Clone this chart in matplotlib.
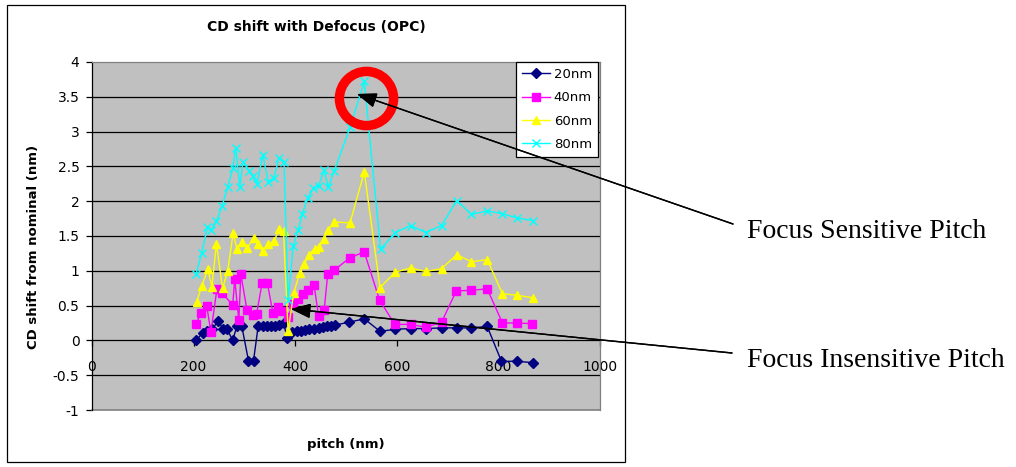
import matplotlib
matplotlib.use("Agg")
import matplotlib.pyplot as plt
from matplotlib.patches import Rectangle

# ---------------- data ----------------
pitch_20 = [205, 218, 227, 236, 249, 257, 266, 277, 285, 295, 308, 318, 327, 336, 344,
            352, 360, 369, 377, 384, 393, 403, 411, 419, 428, 437, 446, 454, 462, 470,
            478, 505, 536, 567, 597, 627, 657, 688, 718, 747, 778, 806, 836, 868]
cd_20 = [0.0, 0.11, 0.14, 0.16, 0.28, 0.17, 0.16, 0.0, 0.2, 0.2, -0.29, -0.29, 0.2, 0.2, 0.2,
         0.2, 0.21, 0.22, 0.25, 0.04, 0.12, 0.13, 0.14, 0.15, 0.16, 0.17, 0.18, 0.19, 0.2, 0.21,
         0.22, 0.26, 0.31, 0.13, 0.16, 0.17, 0.17, 0.18, 0.18, 0.18, 0.2, -0.3, -0.3, -0.32]

pitch_40 = [205, 215, 226, 234, 246, 256, 277, 281, 289, 293, 305, 316, 324, 335, 345,
            356, 367, 374, 385, 396, 406, 416, 426, 437, 446, 457, 464, 477, 508, 536,
            566, 596, 627, 657, 688, 717, 746, 778, 808, 836, 867]
cd_40 = [0.24, 0.4, 0.49, 0.12, 0.74, 0.68, 0.51, 0.88, 0.29, 0.95, 0.44, 0.37, 0.38, 0.83, 0.83,
         0.4, 0.48, 0.42, 0.33, 0.52, 0.59, 0.66, 0.73, 0.8, 0.35, 0.44, 0.95, 1.01, 1.19, 1.27,
         0.58, 0.23, 0.23, 0.19, 0.26, 0.71, 0.72, 0.74, 0.25, 0.25, 0.24]

pitch_60 = [206, 216, 228, 236, 245, 257, 267, 278, 285, 295, 306, 318, 326, 336, 347,
            359, 368, 377, 386, 397, 409, 418, 427, 438, 447, 457, 465, 477, 508, 536,
            567, 597, 627, 657, 688, 718, 747, 778, 808, 836, 869]
cd_60 = [0.55, 0.78, 1.02, 0.77, 1.39, 0.75, 0.99, 1.55, 1.32, 1.42, 1.33, 1.47, 1.38, 1.28, 1.38,
         1.43, 1.6, 1.57, 0.13, 0.68, 0.97, 1.1, 1.23, 1.32, 1.34, 1.46, 1.59, 1.7, 1.69, 2.42,
         0.76, 0.98, 1.04, 0.99, 1.03, 1.23, 1.13, 1.16, 0.67, 0.65, 0.61]

pitch_80 = [205, 216, 227, 235, 245, 256, 267, 277, 283, 291, 297, 309, 316, 325, 336,
            347, 358, 368, 378, 386, 396, 406, 414, 425, 436, 446, 457, 465, 477, 508,
            536, 568, 597, 627, 657, 688, 718, 747, 778, 808, 836, 869]
cd_80 = [0.96, 1.25, 1.63, 1.59, 1.71, 1.93, 2.2, 2.47, 2.77, 2.2, 2.57, 2.44, 2.36, 2.25, 2.67,
         2.28, 2.33, 2.62, 2.57, 0.58, 1.35, 1.59, 1.82, 2.05, 2.19, 2.22, 2.45, 2.2, 2.44, 3.06,
         3.72, 1.31, 1.55, 1.65, 1.55, 1.65, 2.01, 1.81, 1.86, 1.82, 1.76, 1.72]

series_labels = ["20nm", "40nm", "60nm", "80nm"]
x_ticks = [0, 200, 400, 600, 800, 1000]
y_ticks = [-1, -0.5, 0, 0.5, 1, 1.5, 2, 2.5, 3, 3.5, 4]
y_ticklabels = ["-1", "-0.5", "0", "0.5", "1", "1.5", "2", "2.5", "3", "3.5", "4"]

title = "CD shift with Defocus (OPC)"
xlabel = "pitch (nm)"
ylabel = "CD shift from nominal (nm)"
note_sensitive = "Focus Sensitive Pitch"
note_insensitive = "Focus Insensitive Pitch"

# ---------------- figure ----------------
W, H = 1016, 467
plt.rcParams['font.family'] = ['DejaVu Sans']
fig = plt.figure(figsize=(W / 100, H / 100), dpi=100)
fig.patch.set_facecolor("white")

# chart-area frame
fig.add_artist(Rectangle((7 / W, 1 - 462 / H), (625 - 7) / W, (462 - 5) / H,
                         transform=fig.transFigure, fill=False,
                         edgecolor="black", lw=0.9))

ax = fig.add_axes([92 / W, 1 - 410 / H, 508 / W, 348 / H])
ax.set_facecolor("#C0C0C0")
ax.set_xlim(0, 1000)
ax.set_ylim(-1, 4)

for y in y_ticks:
    if -1 < y < 4 and y != 0:
        ax.axhline(y, color="black", lw=0.9, zorder=1)

styles = [
    dict(color="#000080", marker="D", ms=4.6, mfc="#000080", mec="#000080"),
    dict(color="#FF00FF", marker="s", ms=5.2, mfc="#FF00FF", mec="#FF00FF"),
    dict(color="#FFFF00", marker="^", ms=6.2, mfc="#FFFF00", mec="#FFFF00"),
    dict(color="#00FFFF", marker="x", ms=5.2, mew=1.0),
]
data = [(pitch_20, cd_20), (pitch_40, cd_40), (pitch_60, cd_60), (pitch_80, cd_80)]
handles = []
for (xs, ys), lab, st in zip(data, series_labels, styles):
    h, = ax.plot(xs, ys, lw=1.0, label=lab, zorder=3, **st)
    handles.append(h)

# spines
for s in ["top", "right"]:
    ax.spines[s].set_color("#808080")
    ax.spines[s].set_linewidth(0.9)
ax.spines["left"].set_color("black")
ax.spines["left"].set_linewidth(0.9)
ax.spines["bottom"].set_position(("data", 0))
ax.spines["bottom"].set_color("black")
ax.spines["bottom"].set_linewidth(0.9)
ax.spines["bottom"].set_zorder(2)
ax.axhline(-1, color="#808080", lw=1.2, zorder=2, clip_on=False)

ax.set_xticks(x_ticks)
ax.set_xticklabels([str(v) for v in x_ticks])
ax.set_yticks(y_ticks)
ax.set_yticklabels(y_ticklabels)
ax.tick_params(axis="x", direction="out", length=4, width=0.9, pad=10, labelsize=10)
ax.tick_params(axis="y", direction="out", length=4, width=0.9, pad=5, labelsize=10)

# title centred on the chart frame
fig.text(316 / W, 1 - 27 / H, title, fontsize=10, fontweight="bold",
         ha="center", va="center")
ax.set_xlabel(xlabel, fontsize=9.5, fontweight="bold")
ax.xaxis.set_label_coords(0.5, -0.08)
ax.set_ylabel(ylabel, fontsize=9.5, fontweight="bold")
ax.yaxis.set_label_coords(-0.102, 0.47)

leg = ax.legend(handles=handles, loc="upper right", bbox_to_anchor=(0.996, 1.0),
                borderaxespad=0, frameon=True, fancybox=False, edgecolor="black",
                framealpha=1, fontsize=9.5, handlelength=2.1, labelspacing=0.78,
                borderpad=0.45, handletextpad=0.3)
leg.get_frame().set_linewidth(0.9)
leg.set_zorder(5)

# red circle highlight
ax.plot([539], [3.48], marker="o", ms=39, mfc="none", mec="#FF0000", mew=6.8,
        zorder=6, clip_on=False)

# annotations (figure pixels, origin bottom-left)
arrow = dict(arrowstyle="-|>,head_length=0.8,head_width=0.3", color="black",
             lw=1.0, shrinkA=0, shrinkB=0, mutation_scale=15)
fig.add_artist(ax.annotate("", xy=(357, H - 94), xycoords="figure pixels",
                           xytext=(733, H - 224), textcoords="figure pixels",
                           arrowprops=arrow, zorder=7))
fig.add_artist(ax.annotate("", xy=(291, H - 309), xycoords="figure pixels",
                           xytext=(732, H - 353), textcoords="figure pixels",
                           arrowprops=arrow, zorder=7))

fig.text(747 / W, 1 - 238 / H, note_sensitive, fontfamily="Liberation Serif",
         fontsize=20, va="baseline", ha="left")
fig.text(747 / W, 1 - 367 / H, note_insensitive, fontfamily="Liberation Serif",
         fontsize=20, va="baseline", ha="left")

fig.savefig("out.png", dpi=100)
